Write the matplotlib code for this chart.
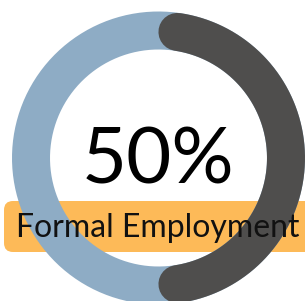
import numpy as np
import matplotlib
matplotlib.use('Agg')
import matplotlib.pyplot as plt
from matplotlib.patches import FancyBboxPatch

# data
label = 'Formal Employment'
share = 50          # percent
total = 100

blue = '#8eacc5'
dark = '#4f4e4d'
orange = '#fdba58'

fig = plt.figure(figsize=(3.05, 3.01), dpi=100)
ax = fig.add_axes([0, 0, 1, 1])
ax.set_xlim(0, 305)
ax.set_ylim(301, 0)
ax.axis('off')

cx, cy = 158.5, 158.0
r_mid = 127.5
ring_w = 38  # px
lw = ring_w * 72 / 100

# background ring
t = np.linspace(0, 2 * np.pi, 400)
ax.plot(cx + r_mid * np.cos(t), cy - r_mid * np.sin(t), color=blue, lw=lw,
        solid_capstyle='butt')

# value arc, clockwise from top, round caps
cap = (ring_w / 2) / r_mid
a0 = np.pi / 2 - cap
a1 = np.pi / 2 - 2 * np.pi * share / total + cap
t = np.linspace(a0, a1, 300)
ax.plot(cx + r_mid * np.cos(t), cy - r_mid * np.sin(t), color=dark, lw=lw,
        solid_capstyle='round')

ax.text(cx, 162, f'{share}%', ha='center', va='center', fontsize=56,
        family='Lato', fontweight='normal', color='black')

box = FancyBboxPatch((4, 201), 330, 51, boxstyle='round,pad=0,rounding_size=9',
                     fc=orange, ec='none')
ax.add_patch(box)
ax.text(158, 228, label, ha='center', va='center', fontsize=23,
        family='Lato', color='#111111')

fig.savefig('out.png', dpi=100)
